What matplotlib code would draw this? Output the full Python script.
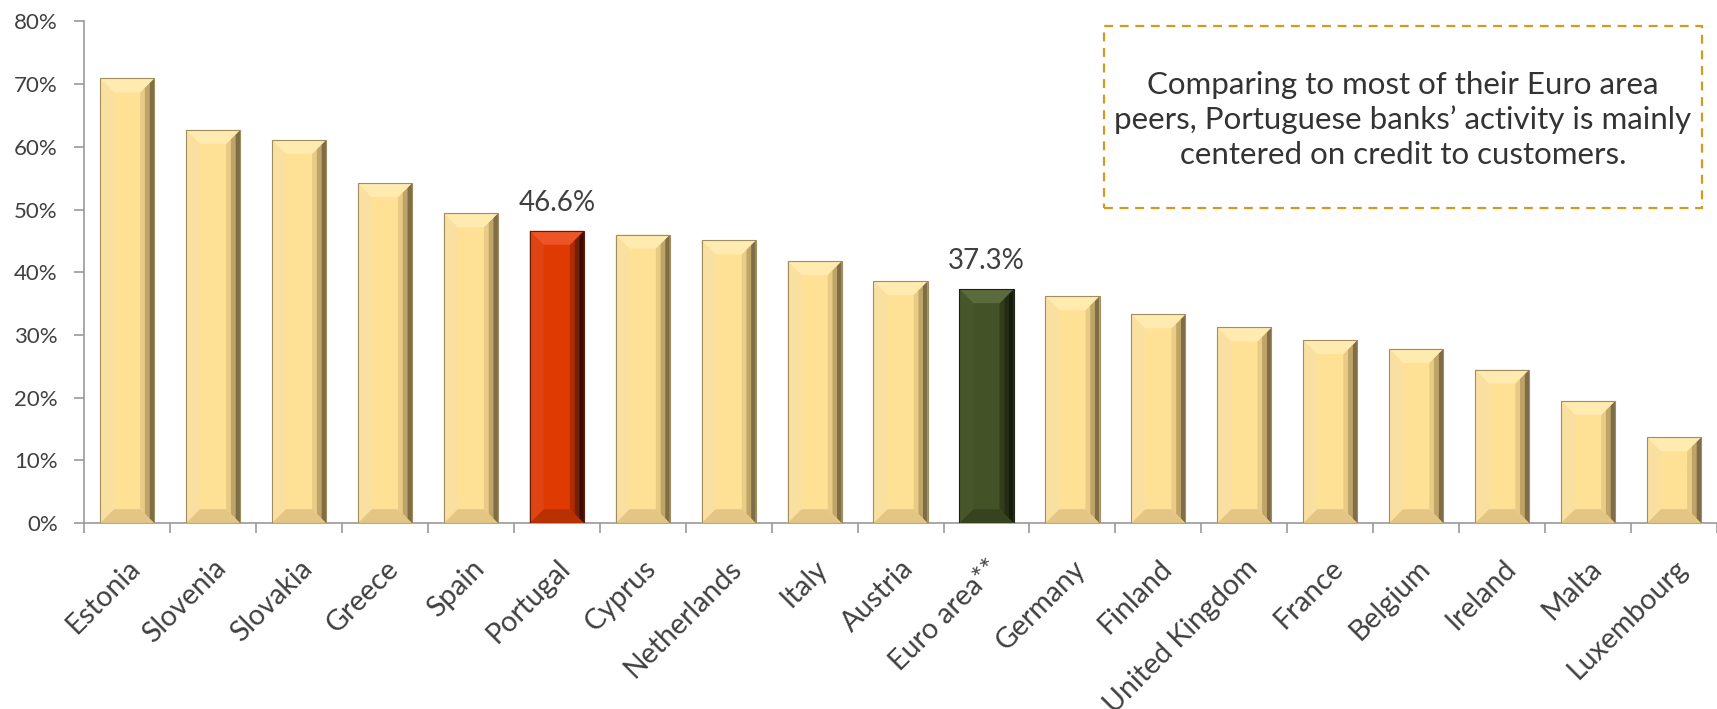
import matplotlib
matplotlib.use("Agg")
import matplotlib.pyplot as plt
from matplotlib.patches import Polygon, Rectangle
from matplotlib.ticker import FuncFormatter, FixedLocator
import numpy as np

categories = ["Estonia", "Slovenia", "Slovakia", "Greece", "Spain", "Portugal", "Cyprus",
              "Netherlands", "Italy", "Austria", "Euro area**", "Germany", "Finland",
              "United Kingdom", "France", "Belgium", "Ireland", "Malta", "Luxembourg"]
values = [70.9, 62.7, 61.1, 54.2, 49.4, 46.6, 46.0, 45.1, 41.8, 38.6, 37.3, 36.2, 33.3,
          31.2, 29.2, 27.8, 24.5, 19.5, 13.7]
highlight = {"Portugal": "red", "Euro area**": "green"}
value_labels = {"Portugal": "46.6%", "Euro area**": "37.3%"}
y_ticks = [0, 10, 20, 30, 40, 50, 60, 70, 80]
note_text = ("Comparing to most of their Euro area\n"
             "peers, Portuguese banks\u2019 activity is mainly\n"
             "centered on credit to customers.")

palettes = {
    "yellow": dict(face="#FFE196", top="#FFEAB0", left="#FAE0A0", right=["#E8CB85", "#BFA468", "#7E6D47"],
                   bottom="#E3C585", edge="#A08D60"),
    "red": dict(face="#DF3A02", top="#EE5526", left="#E04412", right=["#B02C00", "#72200A", "#3A0F02"],
                bottom="#B83200", edge="#601A05"),
    "green": dict(face="#435227", top="#5C6B3D", left="#47562B", right=["#323D1C", "#242C14", "#161C0C"],
                  bottom="#37431F", edge="#1B210F"),
}

plt.rcParams['font.family'] = ['Lato', 'DejaVu Sans']
fig = plt.figure(figsize=(17.17, 7.09), dpi=100)
ax = fig.add_axes([0.049, 0.262, 0.951, 0.708])

x = np.arange(len(categories))
width = 0.63
ax.set_xlim(-0.5, len(categories) - 0.5)
ax.set_ylim(0, 80)

# pixels per data unit so that bevels have a constant pixel size
fig.canvas.draw()
p0 = ax.transData.transform((0, 0))
p1 = ax.transData.transform((1, 1))
px_x = p1[0] - p0[0]
px_y = p1[1] - p0[1]
bev_px = 14
bx = bev_px / px_x
by = bev_px / px_y

for xi, cat, v in zip(x, categories, values):
    pal = palettes[highlight.get(cat, "yellow")]
    bars = ax.bar(xi, v, width=width, color=pal["face"], edgecolor="none", zorder=2)
    b = bars[0]
    x0 = b.get_x(); x1 = x0 + b.get_width(); h = b.get_height()
    ax.add_patch(Polygon([(x0, 0), (x0, h), (x0 + bx, h - by), (x0 + bx, by)],
                         closed=True, facecolor=pal["left"], edgecolor="none", zorder=3))
    n = len(pal["right"])
    for k, col in enumerate(pal["right"]):
        f_in = 1 - k / n
        f_out = 1 - (k + 1) / n
        xa = x1 - bx * f_in
        xb = x1 - bx * f_out
        ya = by * f_in
        yb = by * f_out
        ax.add_patch(Polygon([(xa, ya), (xb, yb), (xb, h - yb), (xa, h - ya)],
                             closed=True, facecolor=col, edgecolor="none", zorder=3))
    ax.add_patch(Polygon([(x0, 0), (x1, 0), (x1 - bx, by), (x0 + bx, by)],
                         closed=True, facecolor=pal["bottom"], edgecolor="none", zorder=3))
    ax.add_patch(Polygon([(x0, h), (x1, h), (x1 - bx, h - by), (x0 + bx, h - by)],
                         closed=True, facecolor=pal["top"], edgecolor="none", zorder=4))
    ax.add_patch(Rectangle((x0, 0), x1 - x0, h, facecolor="none", edgecolor=pal["edge"],
                           linewidth=0.8, zorder=5))
    if cat in value_labels:
        ax.annotate(value_labels[cat], (xi, h), xytext=(0, 11), textcoords="offset points",
                    ha="center", va="bottom", fontsize=20, color="#404040", zorder=6)

for s in ["top", "right"]:
    ax.spines[s].set_visible(False)
for s in ["left", "bottom"]:
    ax.spines[s].set_color("#9A9A9A")
    ax.spines[s].set_linewidth(1.2)

ax.yaxis.set_major_locator(FixedLocator(y_ticks))
ax.yaxis.set_major_formatter(FuncFormatter(lambda v, p: f"{v:.0f}%"))
ax.tick_params(axis="y", direction="out", length=7, width=1.2, color="#9A9A9A",
               labelsize=16, labelcolor="#404040", pad=12)

ax.set_xticks(x)
ax.set_xticklabels(categories, rotation=45, ha="right", rotation_mode="anchor",
                   fontsize=20.5, color="#404040")
ax.tick_params(axis="x", which="major", length=0, pad=23)
ax.set_xticks(np.arange(len(categories) + 1) - 0.5, minor=True)
ax.tick_params(axis="x", which="minor", direction="out", length=7, width=1.2, color="#9A9A9A")

box = Rectangle((1104 / 1717, 1 - 208 / 709), (1702 - 1104) / 1717, (208 - 26) / 709,
                transform=fig.transFigure, facecolor="white", edgecolor="#D49A1E",
                linestyle=(0, (4, 3)), linewidth=1.6, zorder=1)
fig.patches.append(box)
fig.text(1403 / 1717, 1 - 120 / 709, note_text, ha="center", va="center",
         fontsize=22.5, color="#333333", linespacing=1.28, zorder=3)

fig.savefig("out.png", dpi=100)
